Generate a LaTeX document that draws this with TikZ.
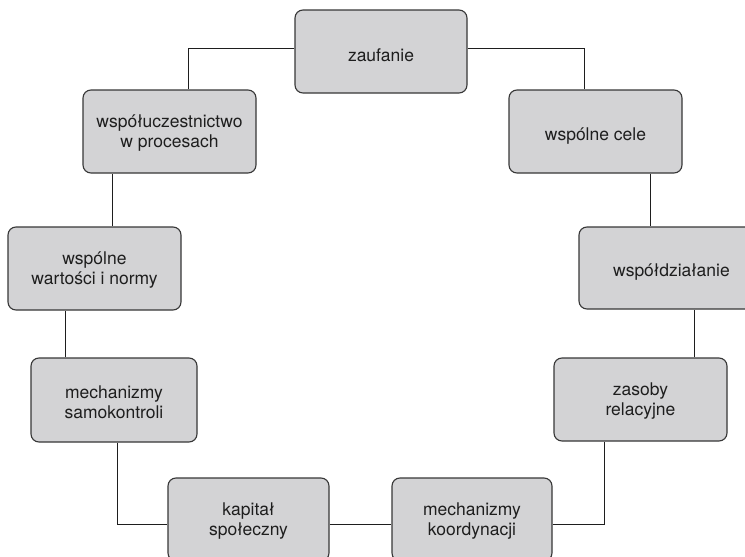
\documentclass[tikz,border=0pt]{standalone}
\usepackage{fontspec}
\setmainfont{TeX Gyre Heros}
\definecolor{boxfill}{RGB}{211,211,213}
\definecolor{boxline}{RGB}{55,55,55}
\definecolor{txt}{RGB}{30,30,30}
\definecolor{linkcol}{RGB}{30,30,30}
\begin{document}
\begin{tikzpicture}[x=1pt,y=-1pt,
  box/.style={draw=boxline, fill=boxfill, rounded corners=8pt, line width=1.1pt,
    align=center, text=txt, font=\fontsize{17.5}{20}\selectfont,
    inner sep=0pt, minimum width=173pt, minimum height=83pt, text height=36.5pt},
  oneline/.style={text height=21pt},
  link/.style={draw=linkcol, line width=0.9pt}]
\useasboundingbox (0,0) rectangle (745,557);

% the nine factors
\node[box, oneline, minimum width=172pt] (zau) at (381,51.5) {zaufanie};
\node[box] (wsp)   at (169.5,131.5) {współuczestnictwo\\w procesach};
\node[box, oneline] (cele) at (595.5,131.5) {wspólne cele};
\node[box] (wart)  at (94.5,268.5)  {wspólne\\wartości i normy};
\node[box, oneline, minimum width=185pt, minimum height=82pt] (dzial) at (671.5,268) {współdziałanie};
\node[box, minimum width=166pt, minimum height=84pt] (samo) at (114,400) {mechanizmy\\samokontroli};
\node[box] (zas)   at (640.5,399.5) {zasoby\\relacyjne};
\node[box, minimum width=161pt] (kap)   at (248.5,519.5) {kapitał\\społeczny};
\node[box, minimum width=160pt] (koord) at (472,519.5)   {mechanizmy\\koordynacji};

% ring of connectors
\draw[link] ([yshift=3.5pt]zau.west) -| ([xshift=19pt]wsp.north);
\draw[link] ([yshift=3.5pt]zau.east) -| ([xshift=-11.5pt]cele.north);
\draw[link] ([xshift=17.5pt]wart.north) -- ([xshift=17.5pt]wart.north |- wsp.south);
\draw[link] ([xshift=-49pt]samo.north) -- ([xshift=-49pt]samo.north |- wart.south);
\draw[link] ([xshift=54.5pt]cele.south) -- ([xshift=54.5pt]cele.south |- dzial.north);
\draw[link] ([xshift=53.5pt]zas.north) -- ([xshift=53.5pt]zas.north |- dzial.south);
\draw[link] ([xshift=3pt]samo.south) |- ([yshift=-4.5pt]kap.west);
\draw[link] ([yshift=-4.5pt]kap.east) -- ([yshift=-4.5pt]koord.west);
\draw[link] ([yshift=-4.5pt]koord.east) -| ([xshift=-36.5pt]zas.south);
\end{tikzpicture}
\end{document}
